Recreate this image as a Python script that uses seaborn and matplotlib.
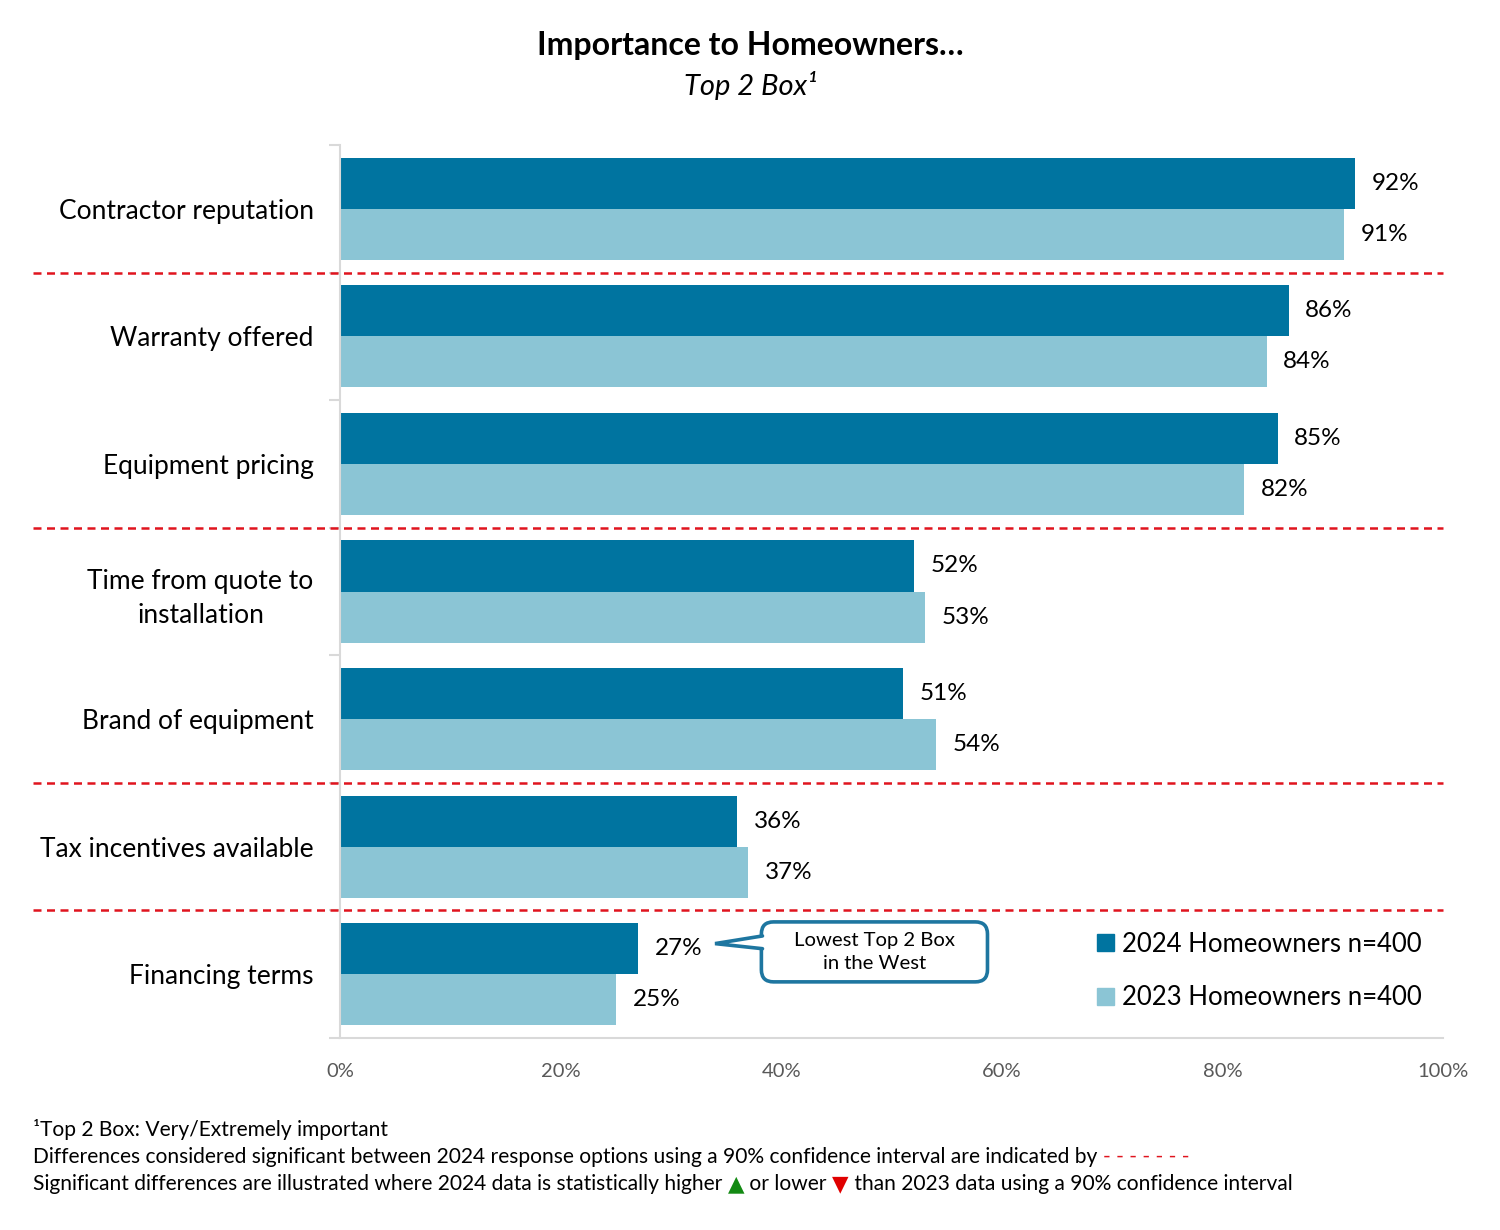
import numpy as np
import pandas as pd
import matplotlib.pyplot as plt
import matplotlib.transforms as mtransforms
from matplotlib.patches import FancyBboxPatch, Polygon, Patch
import seaborn as sns

# chart data
categories = ["Contractor reputation", "Warranty offered", "Equipment pricing",
              "Time from quote to\ninstallation", "Brand of equipment",
              "Tax incentives available", "Financing terms"]
share_2024 = [92, 86, 85, 52, 51, 36, 27]
share_2023 = [91, 84, 82, 53, 54, 37, 25]
series = ["2024 Homeowners n=400", "2023 Homeowners n=400"]
# significant differences: red dashed line after these categories
breaks_after = ["Contractor reputation", "Equipment pricing",
                "Brand of equipment", "Tax incentives available"]
x_ticks = [0, 20, 40, 60, 80, 100]

dark = "#0074A0"
light = "#8BC5D5"
red = "#E0141E"
grey_axis = "#D9D9D9"

df = pd.DataFrame({"Category": categories * 2,
                   "Share": share_2024 + share_2023,
                   "Series": [series[0]] * len(categories) + [series[1]] * len(categories)})

sns.set_theme(style="white")
plt.rcParams["font.family"] = ["Lato", "DejaVu Sans"]
plt.rcParams["text.color"] = "black"

fig = plt.figure(figsize=(15, 12.3), dpi=100)
ax = fig.add_axes([0.2267, 0.1561, 0.7353, 0.7260])

sns.barplot(data=df, y="Category", x="Share", hue="Series", orient="h",
            palette=[dark, light], width=0.8, linewidth=0, saturation=1, ax=ax)

for cont in ax.containers:
    ax.bar_label(cont, labels=[f"{v:.0f}%" for v in cont.datavalues],
                 padding=12, fontsize=17.5, color="black")

ax.set_xlim(0, 100)
ax.set_ylim(len(categories) - 0.5, -0.5)
ax.set_xlabel("")
ax.set_ylabel("")

ax.set_xticks(x_ticks)
ax.set_xticklabels([f"{t}%" for t in x_ticks])
ax.tick_params(axis="x", length=6, width=1.5, color=grey_axis, labelcolor="#595959",
               labelsize=14.5, pad=12)
ax.tick_params(axis="y", which="major", length=0, pad=19, labelsize=19, labelcolor="black")
ax.set_yticks(np.arange(-0.5, len(categories)), minor=True)
ax.tick_params(axis="y", which="minor", length=8, width=1.5, color=grey_axis, left=True)
for lab in ax.get_yticklabels():
    lab.set_multialignment("center")
    lab.set_linespacing(1.45)

for s in ["top", "right"]:
    ax.spines[s].set_visible(False)
for s in ["left", "bottom"]:
    ax.spines[s].set_color(grey_axis)
    ax.spines[s].set_linewidth(1.5)

# red dashed separators, extending into the label area
blend = mtransforms.blended_transform_factory(fig.transFigure, ax.transData)
for cat in breaks_after:
    yb = categories.index(cat) + 0.5
    ax.plot([0.022, 0.962], [yb, yb], transform=blend, color=red, lw=1.8,
            ls=(0, (3.2, 2.2)), clip_on=False, zorder=5)

# legend
handles = [Patch(color=dark), Patch(color=light)]
ax.legend(handles, series, loc="center left", bbox_to_anchor=(1074 / 1500, 1 - 971 / 1230),
          bbox_transform=fig.transFigure, frameon=False, fontsize=18.5,
          handlelength=0.65, handleheight=0.65, handletextpad=0.3, labelspacing=1.1)

# callout next to the lowest bar
bar_end = share_2024[-1]
y_fin = len(categories) - 1
bx0, bx1 = bar_end + 11.2, bar_end + 31.7
by0, by1 = y_fin - 0.41, y_fin + 0.06
ext = ax.get_window_extent()
asp = (ext.width / 100) / (ext.height / len(categories))
callout_col = "#1E76A0"
box = FancyBboxPatch((bx0, by0), bx1 - bx0, by1 - by0,
                     boxstyle="round,pad=0,rounding_size=1.1", mutation_aspect=asp,
                     fc="white", ec=callout_col, lw=2.6, zorder=6, clip_on=False)
ax.add_patch(box)
tip = (bar_end + 7.0, y_fin - 0.24)
t_top = (bx0, y_fin - 0.30)
t_bot = (bx0, y_fin - 0.20)
ax.add_patch(Polygon([(t_top[0] + 0.4, t_top[1]), tip, (t_bot[0] + 0.4, t_bot[1])],
                     closed=True, fc="white", ec="none", zorder=7, clip_on=False))
ax.plot([t_top[0] + 0.1, tip[0], t_bot[0] + 0.1], [t_top[1], tip[1], t_bot[1]],
        color=callout_col, lw=2.6, zorder=8, solid_joinstyle="miter", clip_on=False)
ax.text((bx0 + bx1) / 2, (by0 + by1) / 2, "Lowest Top 2 Box\nin the West",
        ha="center", va="center", fontsize=14.6, linespacing=1.45, zorder=9)

# titles
fig.text(0.5, 1 - 46 / 1230, "Importance to Homeowners…", ha="center", va="center",
         fontsize=23, fontweight="bold")
fig.text(0.5, 1 - 85 / 1230, "Top 2 Box¹", ha="center", va="center",
         fontsize=21, style="italic")

# footnotes
fx = 33 / 1500
fs = 15.1
fig.text(fx, 1 - 1129 / 1230, "¹Top 2 Box: Very/Extremely important", va="center", fontsize=fs)
t2 = fig.text(fx, 1 - 1157 / 1230,
              "Differences considered significant between 2024 response options using a 90% "
              "confidence interval are indicated by ", va="center", fontsize=fs)
ax.annotate("- - - - - - -", xy=(1, 0), xycoords=t2, va="bottom", ha="left",
            fontsize=fs, color=red)
t3 = fig.text(fx, 1 - 1184 / 1230,
              "Significant differences are illustrated where 2024 data is statistically higher ",
              va="center", fontsize=fs)
t4 = ax.annotate("▲", xy=(1, 0.5), xycoords=(t3, t3), va="center", ha="left",
                 fontsize=15.5, color="#138A13")
t5 = ax.annotate(" or lower ", xy=(1, 0), xycoords=(t4, t3), va="bottom", ha="left",
                 fontsize=fs)
t6 = ax.annotate("▼", xy=(1, 0.5), xycoords=(t5, t3), va="center", ha="left",
                 fontsize=15.5, color="#E00000")
ax.annotate(" than 2023 data using a 90% confidence interval", xy=(1, 0),
            xycoords=(t6, t3), va="bottom", ha="left", fontsize=fs)

fig.savefig("out.png", dpi=100)
